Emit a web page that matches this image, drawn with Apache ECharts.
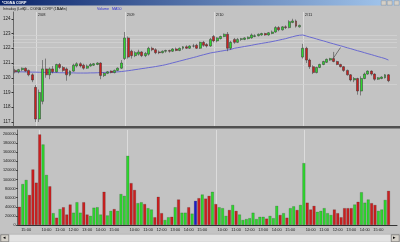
<!DOCTYPE html>
<html><head><meta charset="utf-8">
<script src="https://cdn.jsdelivr.net/npm/echarts@6/dist/echarts.min.js"></script>
<style>html,body{margin:0;padding:0;background:#c3c3c3;overflow:hidden}#c{width:400px;height:242px}</style>
</head><body><div id="c"></div>
<script>
// ---- sessions / categories ----
const dayLabels = ['2/07', '2/08', '2/09', '2/10', '2/11'];
const dayFirstBar = ['14:30', '09:30', '09:30', '09:30', '09:30'];
const dayBarCount = [6, 26, 26, 26, 26];

// ---- axis ticks ----
const priceTicks = [117, 118, 119, 120, 121, 122, 123, 124];
const volumeTicks = [0, 20000, 40000, 60000, 80000, 100000, 120000, 140000, 160000, 180000, 200000];
// faint horizontal price level lines seen in the price pane
const priceLevels = [122.85, 122.63, 122.40, 122.10, 120.88, 119.58];

// ---- OHLC (15-min bars) ----
const open = [
 120.5,120.4,120.55,120.65,120.5,120.2,
 119.35,117.2,118.4,120.6,120.2,120.6,120.4,120.9,120.7,120.6,120.2,120.45,120.8,120.95,120.85,120.65,120.8,120.85,120.9,121.0,120.15,120.3,120.45,120.35,120.5,120.65,
 121.3,122.7,121.8,121.5,121.6,121.75,121.5,121.6,122.0,121.9,121.75,121.7,121.8,121.85,121.8,121.95,121.85,122.0,122.1,122.0,122.15,122.2,122.0,122.4,122.25,122.15,
 122.8,122.5,122.65,122.8,122.95,122.0,122.6,122.4,122.6,122.6,122.65,122.7,122.8,122.85,122.9,123.0,122.9,123.0,123.1,123.4,123.25,123.45,123.4,123.75,123.85,123.45,
 121.4,122.0,121.2,120.75,120.35,120.7,120.9,121.05,121.2,121.3,121.1,120.9,120.75,120.5,120.2,119.85,119.95,119.1,119.95,120.25,120.45,120.25,119.9,119.95,120.0,120.2
];
const high = [
 120.6,120.6,120.7,120.7,120.55,120.3,
 119.5,119.2,121.2,121.3,120.7,120.8,120.95,121.0,120.8,120.7,120.5,120.95,121.05,121.05,120.95,120.9,121.0,121.0,121.05,121.05,120.35,120.45,120.5,120.55,120.7,121.2,
 123.1,122.8,121.9,121.8,121.9,121.8,121.75,122.1,122.1,122.0,121.85,121.85,121.9,121.9,122.0,122.05,122.05,122.15,122.2,122.2,122.3,122.3,122.45,122.5,122.35,122.7,
 122.9,122.75,122.85,123.0,123.1,122.5,122.7,122.7,122.7,122.75,122.8,123.0,122.95,123.0,123.05,123.05,123.1,123.2,123.5,123.5,123.5,123.55,123.9,124.0,123.95,123.6,
 122.3,122.1,121.3,120.85,120.75,120.95,121.15,121.3,121.35,121.35,121.15,120.95,120.8,120.55,120.25,120.05,120.0,120.1,120.35,120.5,120.5,120.3,120.05,120.1,120.25,120.25
];
const low = [
 120.3,120.3,120.45,120.4,120.1,119.7,
 117.0,117.0,118.2,120.0,119.9,120.3,120.35,120.6,120.4,119.8,120.1,120.4,120.7,120.7,120.55,120.6,120.75,120.8,120.85,119.9,120.05,120.25,120.3,120.3,120.45,120.6,
 121.2,121.3,121.3,121.4,121.5,121.4,121.4,121.5,121.8,121.6,121.6,121.65,121.7,121.7,121.75,121.8,121.8,121.9,121.95,121.95,122.05,121.95,121.95,122.1,122.05,122.1,
 122.4,122.4,122.6,122.75,121.8,121.9,122.3,122.35,122.5,122.55,122.6,122.65,122.75,122.8,122.85,122.85,122.85,122.95,123.05,123.15,123.2,123.3,123.35,123.7,123.4,123.4,
 121.3,121.0,120.6,120.25,120.3,120.65,120.85,121.0,121.15,121.05,120.85,120.7,120.4,120.15,119.75,119.7,118.85,118.8,119.9,120.2,120.15,119.8,119.85,119.9,119.95,119.7
];
const close = [
 120.4,120.55,120.65,120.45,120.2,119.85,
 117.2,119.0,120.6,120.2,120.6,120.4,120.9,120.7,120.5,120.2,120.45,120.85,120.95,120.8,120.65,120.8,120.9,120.95,121.0,120.15,120.3,120.4,120.35,120.5,120.65,121.0,
 122.7,121.4,121.5,121.7,121.75,121.5,121.65,122.0,121.9,121.7,121.7,121.8,121.85,121.8,121.95,121.85,122.0,122.1,122.0,122.15,122.15,122.0,122.4,122.2,122.15,122.6,
 122.5,122.7,122.8,122.95,122.0,122.4,122.4,122.6,122.65,122.7,122.75,122.9,122.85,122.95,123.0,122.9,123.05,123.1,123.4,123.25,123.45,123.4,123.8,123.85,123.5,123.55,
 122.0,121.2,120.75,120.35,120.7,120.9,121.1,121.25,121.3,121.1,120.9,120.75,120.5,120.2,119.85,119.95,119.1,119.95,120.25,120.45,120.25,119.9,120.0,120.05,120.2,119.8
];
// ---- volume ----
const volume = [
 40000,90000,99000,66000,122000,93000,
 199000,177000,110000,85000,26000,16000,35000,39000,23000,45000,27000,50000,27000,50000,23000,20000,38000,39000,23000,73000,21000,31000,35000,31000,68000,64000,
 152000,92000,77000,48000,50000,46000,37000,34000,17000,62000,26000,11000,17000,18000,39000,56000,27000,27000,39000,25000,53000,59000,67000,58000,64000,73000,
 46000,39000,37000,20000,33000,44000,31000,23000,11000,13000,15000,27000,13000,18000,18000,14000,20000,15000,42000,22000,26000,16000,37000,41000,33000,44000,
 136000,49000,34000,42000,29000,31000,37000,26000,22000,34000,26000,17000,37000,37000,37000,45000,51000,72000,49000,56000,48000,44000,31000,34000,55000,75000
];
// ---- MA50 ----
const ma50 = [
 120.40,120.40,120.40,120.39,120.39,120.38,
 120.38,120.37,120.37,120.36,120.36,120.35,120.35,120.34,120.34,120.33,120.33,120.33,120.32,120.32,120.32,120.32,120.33,120.33,120.34,120.35,120.36,120.37,120.38,120.39,120.40,120.42,
 120.45,120.48,120.51,120.55,120.58,120.62,120.65,120.69,120.72,120.76,120.80,120.84,120.89,120.95,121.01,121.07,121.13,121.19,121.25,121.31,121.37,121.43,121.50,121.56,121.62,121.68,
 121.72,121.76,121.80,121.84,121.88,121.92,122.00,122.04,122.08,122.12,122.16,122.20,122.25,122.29,122.33,122.37,122.41,122.45,122.50,122.55,122.60,122.65,122.72,122.78,122.84,122.88,
 122.90,122.83,122.76,122.70,122.63,122.56,122.50,122.43,122.36,122.30,122.23,122.17,122.10,122.03,121.97,121.90,121.83,121.77,121.70,121.63,121.57,121.50,121.43,121.37,121.30,121.20
];
// hand-drawn tick annotation on 2/11 (bar index, price)
const notePoints = [[92.6, 121.75], [93.3, 121.35], [95.4, 122.05]];

// ---- build categories ----
const categories = [];
const dayStartCats = [];
dayLabels.forEach((d, k) => {
  let [h, m] = dayFirstBar[k].split(':').map(Number);
  for (let j = 0; j < dayBarCount[k]; j++) {
    const name = d + ' ' + String(h).padStart(2, '0') + ':' + String(m).padStart(2, '0');
    categories.push(name);
    if (j === 0 && k > 0) dayStartCats.push(name);
    m += 15; if (m >= 60) { m -= 60; h++; }
  }
});

const GREEN = '#2ed62e', RED = '#cc1f1f', BLUE = '#1c1cc8';
const candleData = categories.map((c, i) => [open[i], close[i], low[i], high[i]]);
const volData = categories.map((c, i) => ({
  value: volume[i],
  itemStyle: { color: close[i] > open[i] ? GREEN : (close[i] < open[i] ? RED : BLUE) }
}));

const sepLines = (withLevels) => ({
  silent: true, symbol: ['none', 'none'], animation: false, z: 1,
  label: { show: false },
  lineStyle: { color: '#dcdcdc', width: 1, type: 'solid' },
  data: dayStartCats.map(c => ({ xAxis: c })).concat(
    withLevels ? priceLevels.map(p => ({ yAxis: p, lineStyle: { color: '#d2d2d2', width: 0.8 } })) : [])
});

const chart = echarts.init(document.getElementById('c'), null, { renderer: 'canvas' });
const FONT = 'Liberation Sans';
chart.setOption({
  animation: false,
  backgroundColor: '#c3c3c3',
  textStyle: { fontFamily: FONT },
  grid: [
    { left: 13, right: 3, top: 12, height: 114 },
    { left: 13, right: 3, top: 130, height: 95 }
  ],
  xAxis: [
    { type: 'category', gridIndex: 0, data: categories, max: 111, position: 'top',
      axisLine: { show: false }, axisTick: { show: false }, splitLine: { show: false },
      axisLabel: { interval: (i, v) => dayStartCats.includes(v), formatter: v => v.split(' ')[0],
        align: 'left', margin: -5, fontSize: 4, color: '#222', padding: [0, 0, 0, 2], fontFamily: FONT } },
    { type: 'category', gridIndex: 1, data: categories, max: 111,
      axisLine: { lineStyle: { color: '#333', width: 1 } }, axisTick: { show: false }, splitLine: { show: false },
      axisLabel: { interval: (i, v) => v.endsWith(':00'), formatter: v => v.split(' ')[1],
        fontSize: 4, margin: 3, color: '#222', fontFamily: FONT } }
  ],
  yAxis: [
    { type: 'value', gridIndex: 0, min: 116.729, max: 124.458, scale: true,
      axisLine: { show: true, lineStyle: { color: '#666' } },
      axisTick: { show: true, length: 2, customValues: priceTicks, lineStyle: { color: '#333' } },
      splitLine: { show: false },
      axisLabel: { customValues: priceTicks, formatter: v => String(v), fontSize: 4.5, margin: 3, color: '#222', fontFamily: FONT } },
    { type: 'value', gridIndex: 1, min: 0, max: 208791,
      axisLine: { show: true, lineStyle: { color: '#666' } },
      axisTick: { show: true, length: 1.5, customValues: volumeTicks, lineStyle: { color: '#333' } },
      splitLine: { show: false },
      axisLabel: { customValues: volumeTicks, formatter: v => String(v), fontSize: 3.8, margin: 2, color: '#222', fontFamily: FONT } }
  ],
  series: [
    { type: 'line', xAxisIndex: 0, yAxisIndex: 0, data: [], z: 0, markLine: sepLines(true) },
    { type: 'line', xAxisIndex: 1, yAxisIndex: 1, data: [], z: 0, markLine: sepLines(false) },
    { type: 'candlestick', xAxisIndex: 0, yAxisIndex: 0, data: candleData, barWidth: '72%', z: 3,
      itemStyle: { color: GREEN, color0: RED, borderColor: '#333', borderColor0: '#333', borderWidth: 0.5 } },
    { type: 'line', xAxisIndex: 0, yAxisIndex: 0, data: ma50, showSymbol: false, smooth: false,
      lineStyle: { color: '#6a6ad0', width: 1 }, z: 2 },
    { type: 'line', xAxisIndex: 0, yAxisIndex: 0, data: notePoints, showSymbol: false,
      lineStyle: { color: '#3a3a3a', width: 0.6 }, z: 4 },
    { type: 'bar', xAxisIndex: 1, yAxisIndex: 1, data: volData, barWidth: '86%', z: 3,
      itemStyle: { borderColor: 'rgba(40,40,40,0.5)', borderWidth: 0.4 } }
  ],
  graphic: [
    { type: 'rect', left: 0, top: 0, shape: { width: 400, height: 5.5 },
      style: { fill: new echarts.graphic.LinearGradient(0, 0, 1, 0, [{ offset: 0, color: '#0a246a' }, { offset: 1, color: '#a6caf0' }]) } },
    { type: 'text', left: 2, top: 0.8, style: { text: '*CIGNA CORP', fill: '#fff', font: 'bold 3.6px ' + FONT } },
    { type: 'rect', left: 381, top: 0.5, shape: { width: 5, height: 4.5 }, style: { fill: '#d4d0c8', stroke: '#808080', lineWidth: 0.4 } },
    { type: 'rect', left: 387, top: 0.5, shape: { width: 5, height: 4.5 }, style: { fill: '#d4d0c8', stroke: '#808080', lineWidth: 0.4 } },
    { type: 'rect', left: 394, top: 0.5, shape: { width: 5, height: 4.5 }, style: { fill: '#d4d0c8', stroke: '#808080', lineWidth: 0.4 } },
    { type: 'text', left: 3, top: 6.5, style: { text: 'Intraday (Left)', fill: '#222', font: '3.6px ' + FONT } },
    { type: 'text', left: 23, top: 6.5, style: { text: 'CI - CIGNA CORP (15-Min)', fill: '#222', font: '3.6px ' + FONT } },
    { type: 'text', left: 57, top: 6.5, style: { text: 'Bar', fill: '#222', font: '3.6px ' + FONT } },
    { type: 'text', left: 97, top: 6.5, style: { text: 'Volume', fill: '#2a2ad0', font: '3.6px ' + FONT } },
    { type: 'text', left: 112, top: 6.5, style: { text: 'MA50', fill: '#2a2ad0', font: '3.6px ' + FONT } },
    { type: 'rect', left: 0, top: 126, shape: { width: 400, height: 2.5 }, style: { fill: '#505050' } },
    { type: 'rect', left: 0, top: 234, shape: { width: 400, height: 8 }, style: { fill: '#e2e2e2', stroke: '#a0a0a0', lineWidth: 0.5 } },
    { type: 'rect', left: 0.5, top: 234.5, shape: { width: 8, height: 7 }, style: { fill: '#d4d0c8', stroke: '#404040', lineWidth: 0.5 } },
    { type: 'text', left: 2.5, top: 235, style: { text: '◂', fill: '#000', font: '5px ' + FONT } },
    { type: 'rect', left: 391, top: 234.5, shape: { width: 8, height: 7 }, style: { fill: '#d4d0c8', stroke: '#404040', lineWidth: 0.5 } },
    { type: 'text', left: 393, top: 235, style: { text: '▸', fill: '#000', font: '5px ' + FONT } }
  ]
});
</script></body></html>
